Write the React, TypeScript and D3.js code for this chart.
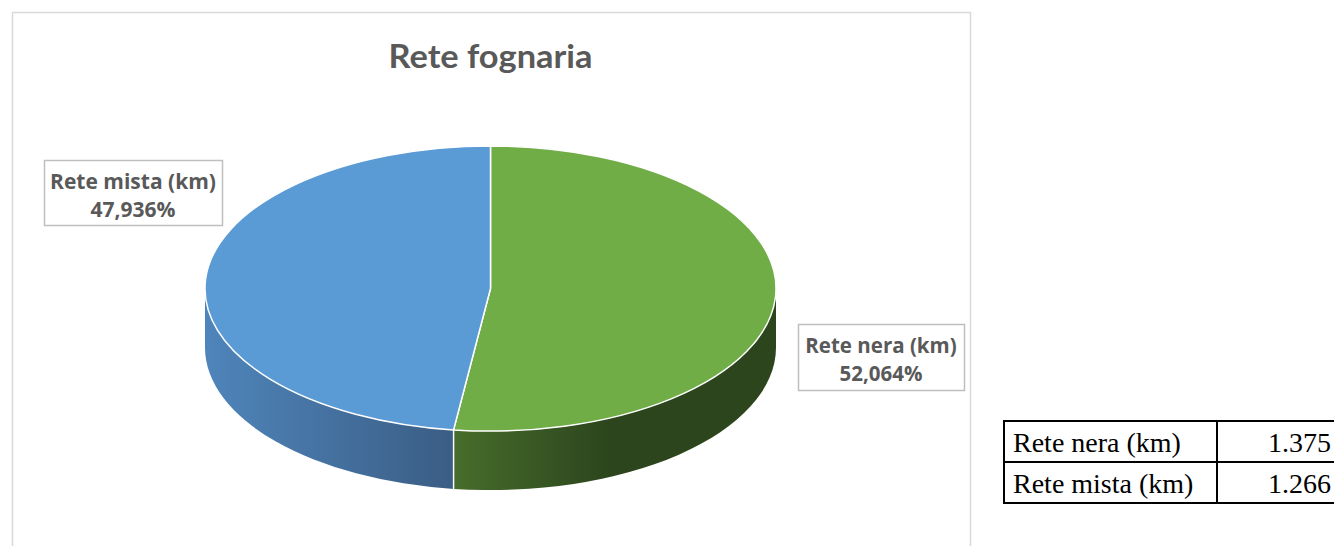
import React, { useEffect, useRef } from "react";
import * as d3 from "d3";

// data
const categories = ["Rete nera (km)", "Rete mista (km)"];
const values = [1.375, 1.266];
const valueLabels = ["1.375", "1.266"];
const topColors = ["#70ad47", "#5b9bd5"];
const sideColors = [
  ["#466d2b", "#2c451d"],
  ["#4f85bb", "#3a5d84"],
];

const App = () => {
  const svgRef = useRef<SVGSVGElement>(null);

  useEffect(() => {
    const svg = d3.select(svgRef.current);
    svg.selectAll("*").remove();

    const width = 1334;
    const height = 546;
    const cx = 490.5;
    const cy = 288.5;
    const rx = 285.5;
    const ry = 142.6;
    const depth = 59;

    // chart area frame
    svg
      .append("rect")
      .attr("x", 12.5)
      .attr("y", 12.5)
      .attr("width", 958)
      .attr("height", height + 20)
      .attr("fill", "#fff")
      .attr("stroke", "#d9d9d9")
      .attr("stroke-width", 1.5);

    svg
      .append("text")
      .attr("x", cx)
      .attr("y", 68)
      .attr("text-anchor", "middle")
      .attr("font-family", "Lato, 'Open Sans', sans-serif")
      .attr("font-weight", "bold")
      .attr("font-size", 33)
      .attr("textLength", 204)
      .attr("lengthAdjust", "spacingAndGlyphs")
      .attr("fill", "#595959")
      .text("Rete fognaria");

    const pie = d3.pie<number>().sort(null).value((d) => d);
    const arcs = pie(values);
    const total = d3.sum(values);

    // angle measured clockwise from 12 o'clock
    const px = (a: number) => cx + rx * Math.sin(a);
    const py = (a: number) => cy - ry * Math.cos(a);

    const defs = svg.append("defs");
    sideColors.forEach((c, i) => {
      const lg = defs
        .append("linearGradient")
        .attr("id", `side${i}`)
        .attr("gradientUnits", "userSpaceOnUse")
        .attr("x1", i === 0 ? 455 : cx - rx)
        .attr("x2", i === 0 ? 610 : 455)
        .attr("y1", 0)
        .attr("y2", 0);
      lg.append("stop").attr("offset", 0).attr("stop-color", c[0]);
      lg.append("stop").attr("offset", 1).attr("stop-color", c[1]);
    });

    const g = svg.append("g");

    // sides: only the front half of the ellipse is visible
    arcs.forEach((d, i) => {
      const a0 = Math.max(d.startAngle, Math.PI / 2);
      const a1 = Math.min(d.endAngle, (3 * Math.PI) / 2);
      if (a1 <= a0) return;
      const path =
        `M${px(a0)},${py(a0)}` +
        `A${rx},${ry} 0 0 1 ${px(a1)},${py(a1)}` +
        `L${px(a1)},${py(a1) + depth}` +
        `A${rx},${ry} 0 0 0 ${px(a0)},${py(a0) + depth}Z`;
      g.append("path")
        .attr("d", path)
        .attr("fill", `url(#side${i})`)
        .attr("stroke", "none");
    });

    // edge line between the two sides
    const split = arcs[0].endAngle;
    g.append("line")
      .attr("x1", px(split))
      .attr("x2", px(split))
      .attr("y1", py(split))
      .attr("y2", py(split) + depth)
      .attr("stroke", "#ffffff")
      .attr("stroke-width", 1.5);

    // top faces
    arcs.forEach((d, i) => {
      const large = d.endAngle - d.startAngle > Math.PI ? 1 : 0;
      const path =
        `M${cx},${cy}L${px(d.startAngle)},${py(d.startAngle)}` +
        `A${rx},${ry} 0 ${large} 1 ${px(d.endAngle)},${py(d.endAngle)}Z`;
      g.append("path")
        .attr("d", path)
        .attr("fill", topColors[i])
        .attr("stroke", "#ffffff")
        .attr("stroke-width", 1.5)
        .attr("stroke-linejoin", "round");
    });

    // data labels
    const fmt = (v: number) =>
      d3.format(".3f")((v / total) * 100).replace(".", ",") + "%";
    const labelBoxes = [
      { x: 798, y: 324, w: 166, h: 66, fs: 20.5 },
      { x: 44, y: 160, w: 178, h: 65, fs: 21 },
    ];
    arcs.forEach((d, i) => {
      const b = labelBoxes[i];
      const lbl = svg.append("g");
      lbl
        .append("rect")
        .attr("x", b.x + 0.5)
        .attr("y", b.y + 0.5)
        .attr("width", b.w)
        .attr("height", b.h)
        .attr("fill", "#fff")
        .attr("stroke", "#bfbfbf")
        .attr("stroke-width", 1.5);
      const t = lbl
        .append("text")
        .attr("text-anchor", "middle")
        .attr("font-family", "'Open Sans', Lato, sans-serif")
        .attr("font-weight", "bold")
        .attr("font-size", b.fs)
        .attr("fill", "#595959");
      t.append("tspan")
        .attr("x", b.x + b.w / 2)
        .attr("y", b.y + 29)
        .text(categories[i]);
      t.append("tspan")
        .attr("x", b.x + b.w / 2)
        .attr("y", b.y + 57)
        .text(fmt(d.data));
    });

    // data table on the right
    const table = svg.append("g");
    const tx = 1004;
    const colX = 1217;
    const rowY = [421, 462, 503];
    table
      .append("path")
      .attr(
        "d",
        `M${width + 5},${rowY[0]}H${tx}V${rowY[2]}H${width + 5}` +
          `M${tx},${rowY[1]}H${width + 5}M${colX},${rowY[0]}V${rowY[2]}`
      )
      .attr("fill", "none")
      .attr("stroke", "#000")
      .attr("stroke-width", 2);
    categories.forEach((c, i) => {
      table
        .append("text")
        .attr("x", tx + 9)
        .attr("y", rowY[i] + 31)
        .attr("font-family", "'Liberation Serif', 'Times New Roman', serif")
        .attr("font-size", 28)
        .attr("fill", "#000")
        .text(c);
      table
        .append("text")
        .attr("x", 1331)
        .attr("y", rowY[i] + 31)
        .attr("text-anchor", "end")
        .attr("font-family", "'Liberation Serif', 'Times New Roman', serif")
        .attr("font-size", 28)
        .attr("fill", "#000")
        .text(valueLabels[i]);
    });
  }, []);

  return (
    <svg
      ref={svgRef}
      width={1334}
      height={546}
      style={{ position: "absolute", left: 0, top: 0, background: "#fff" }}
    />
  );
};

export default App;
